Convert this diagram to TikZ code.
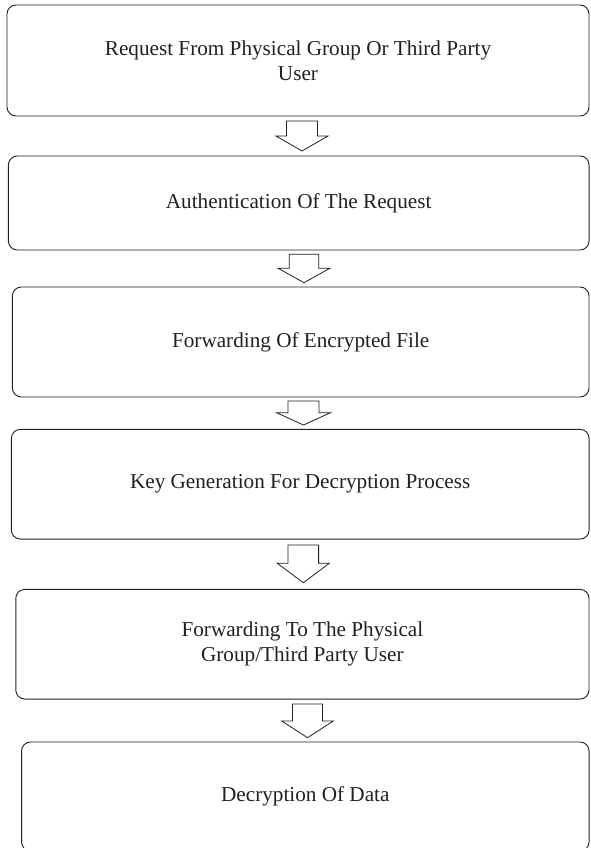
\documentclass[tikz,border=0pt]{standalone}
\usepackage{fontspec}
\setmainfont{Liberation Serif}
\definecolor{ink}{HTML}{231F20}
\newcommand\blockarrow[7]{% #1 name, #2 cx, #3 ytop, #4 yhead, #5 ytip, #6 shaft half, #7 head half
  \coordinate (#1) at (#2,#3);
  \draw[arrline] (#2-#6,#3) -- (#2+#6,#3) -- (#2+#6,#4) -- (#2+#7,#4) -- (#2,#5)
    -- (#2-#7,#4) -- (#2-#6,#4) -- cycle;}
\begin{document}
\begin{tikzpicture}[x=1pt,y=-1pt,
  box/.style={draw=ink, line width=0.9pt, rounded corners=9pt, align=center,
    text=ink, inner sep=0pt,
    font=\fontsize{21.2}{25}\selectfont},
  arrline/.style={draw=ink, line width=0.8pt, fill=white}]
\useasboundingbox (0,0) rectangle (591,848);
\node[box, minimum width=582pt, minimum height=111pt] (b1) at (298,60.5)
  {Request From Physical Group Or Third Party\\User};
\node[box, minimum width=580.7pt, minimum height=94pt] (b2) at (298.7,203)
  {Authentication Of The Request};
\node[box, minimum width=576.6pt, minimum height=110pt] (b3) at (300.7,342)
  {Forwarding Of Encrypted File};
\node[box, minimum width=577.7pt, minimum height=109.7pt] (b4) at (300.2,484.2)
  {Key Generation For Decryption Process};
\node[box, minimum width=573.2pt, minimum height=109.7pt] (b5) at (302.4,644.2)
  {Forwarding To The Physical\\Group/Third Party User};
\node[box, minimum width=567.5pt, minimum height=109pt] (b6) at (305.3,796.5)
  {Decryption Of Data};
\blockarrow{a1}{302}{121}{136}{151}{15.5}{26}
\blockarrow{a2}{304}{254.3}{268.3}{282.7}{14.7}{25.9}
\blockarrow{a3}{303.5}{401}{412.7}{425}{15.5}{27}
\blockarrow{a4}{303.3}{545}{563.3}{582.7}{15.3}{26}
\blockarrow{a5}{307.5}{704}{721}{737.7}{15}{25.8}
\end{tikzpicture}
\end{document}
